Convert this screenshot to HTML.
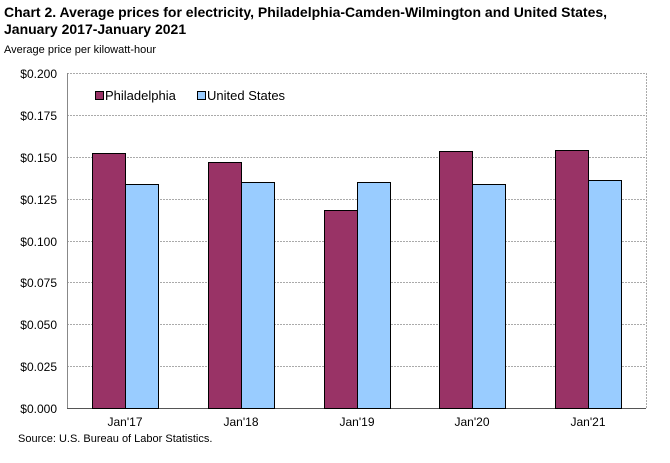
<!DOCTYPE html>
<html><head><style>
body{margin:0;background:#fff;font-family:"Liberation Sans",Arial,sans-serif;}
</style></head><body>
<svg width="670" height="458" xmlns="http://www.w3.org/2000/svg" font-family="Liberation Sans, Arial, sans-serif">
<rect width="670" height="458" fill="#fff"/>
<text x="4" y="17" font-size="14" font-weight="bold">Chart 2. Average prices for electricity, Philadelphia-Camden-Wilmington and United States,</text>
<text x="4" y="34" font-size="14" font-weight="bold">January 2017-January 2021</text>
<text x="4" y="53" font-size="11">Average price per kilowatt-hour</text>
<g stroke="#aaa" stroke-dasharray="2,1" stroke-width="1">
<line x1="67" x2="646" y1="73.5" y2="73.5"/>
<line x1="67" x2="646" y1="115.5" y2="115.5"/>
<line x1="67" x2="646" y1="157.5" y2="157.5"/>
<line x1="67" x2="646" y1="199.5" y2="199.5"/>
<line x1="67" x2="646" y1="241.5" y2="241.5"/>
<line x1="67" x2="646" y1="282.5" y2="282.5"/>
<line x1="67" x2="646" y1="324.5" y2="324.5"/>
<line x1="67" x2="646" y1="366.5" y2="366.5"/>
<line x1="646.5" x2="646.5" y1="73" y2="408"/>
</g>
<line x1="67.5" x2="67.5" y1="73" y2="408" stroke="#888"/>
<line x1="67" x2="646" y1="408.5" y2="408.5" stroke="#555"/>
<g font-size="12" text-anchor="end">
<text x="57" y="78">$0.200</text>
<text x="57" y="120">$0.175</text>
<text x="57" y="162">$0.150</text>
<text x="57" y="204">$0.125</text>
<text x="57" y="246">$0.100</text>
<text x="57" y="287">$0.075</text>
<text x="57" y="329">$0.050</text>
<text x="57" y="371">$0.025</text>
<text x="57" y="413">$0.000</text>
</g>
<g stroke="#000" stroke-width="1">
<rect x="92.5" y="153.5" width="33" height="255" fill="#993366"/>
<rect x="125.5" y="184.5" width="33" height="224" fill="#99ccff"/>
<rect x="208.5" y="162.5" width="33" height="246" fill="#993366"/>
<rect x="241.5" y="182.5" width="33" height="226" fill="#99ccff"/>
<rect x="324.5" y="210.5" width="33" height="198" fill="#993366"/>
<rect x="357.5" y="182.5" width="33" height="226" fill="#99ccff"/>
<rect x="439.5" y="151.5" width="33" height="257" fill="#993366"/>
<rect x="472.5" y="184.5" width="33" height="224" fill="#99ccff"/>
<rect x="555.5" y="150.5" width="33" height="258" fill="#993366"/>
<rect x="588.5" y="180.5" width="33" height="228" fill="#99ccff"/>
</g>
<g font-size="12" text-anchor="middle">
<text x="125" y="426">Jan'17</text>
<text x="241" y="426">Jan'18</text>
<text x="357" y="426">Jan'19</text>
<text x="472" y="426">Jan'20</text>
<text x="588" y="426">Jan'21</text>
</g>
<text x="18" y="442" font-size="11">Source: U.S. Bureau of Labor Statistics.</text>
<rect x="95.5" y="91.5" width="8" height="8" fill="#993366" stroke="#000"/>
<text x="105" y="100" font-size="13">Philadelphia</text>
<rect x="197.5" y="91.5" width="8" height="8" fill="#99ccff" stroke="#000"/>
<text x="207" y="100" font-size="13">United States</text>
</svg>
</body></html>
